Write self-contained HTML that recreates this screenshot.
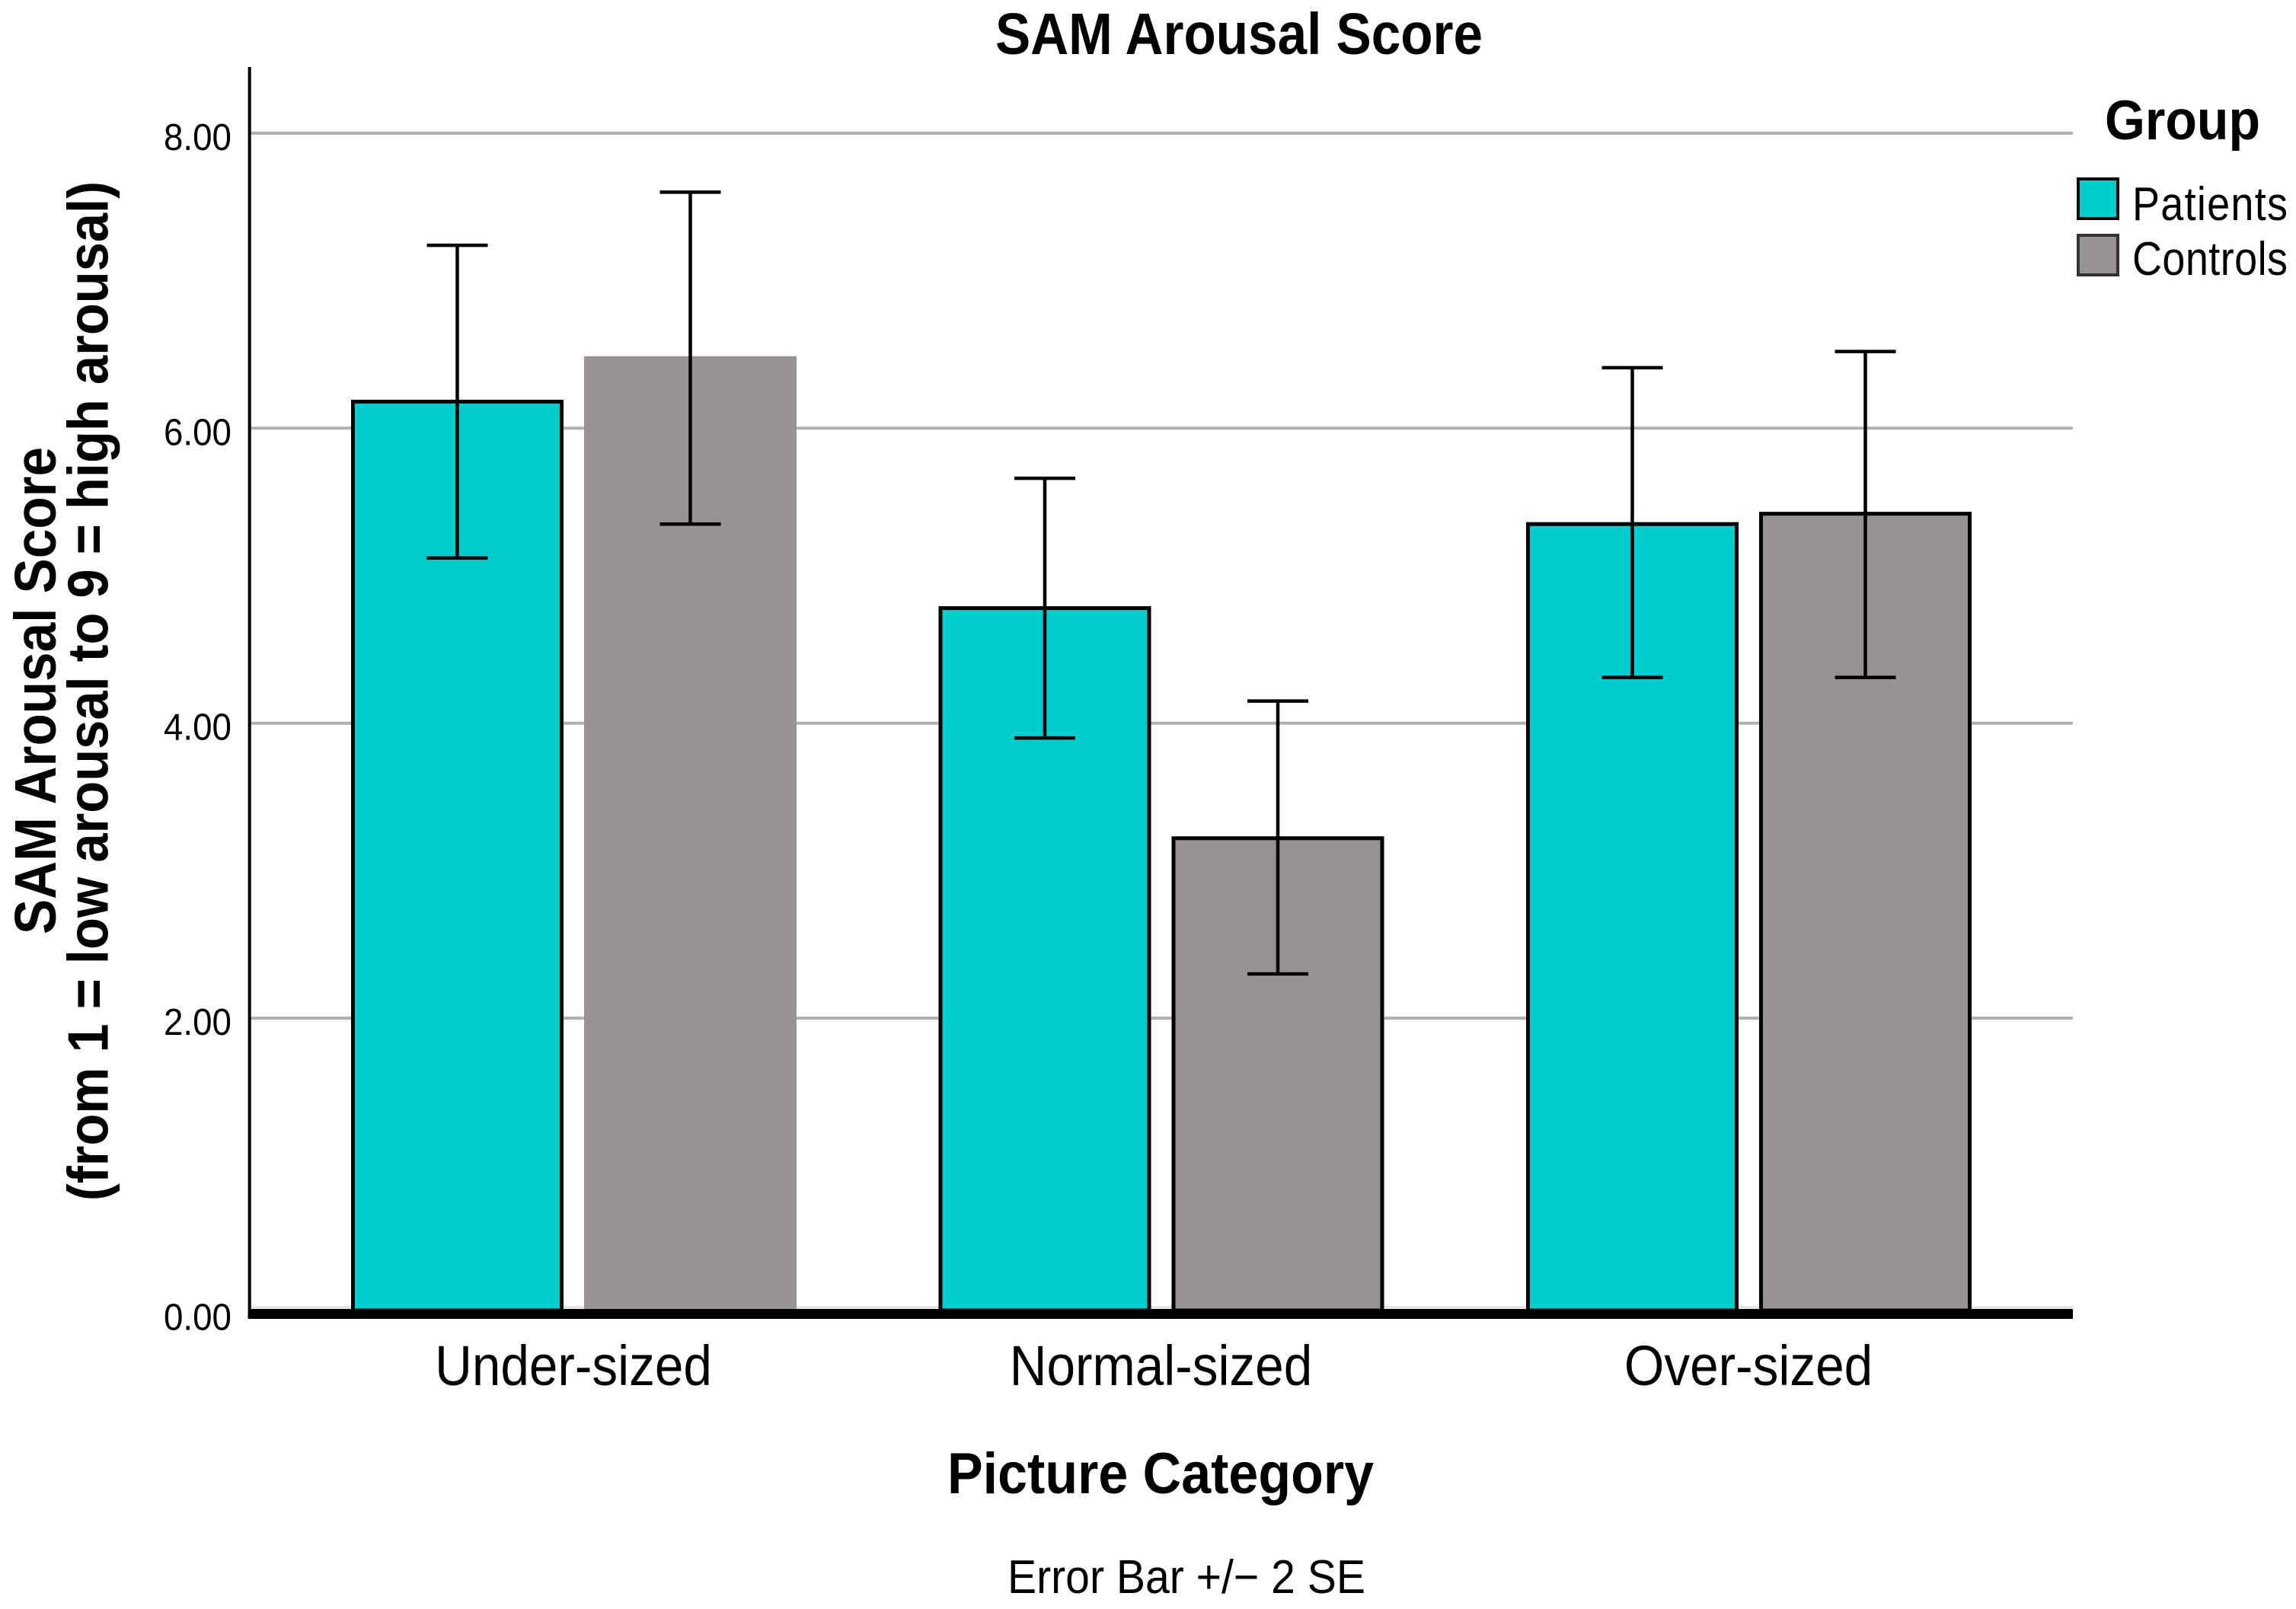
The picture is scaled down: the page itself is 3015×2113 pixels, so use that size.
<!DOCTYPE html>
<html lang="en">
<head>
<meta charset="utf-8">
<title>SAM Arousal Score</title>
<style>
  html, body { margin: 0; padding: 0; background: #fff; width: 3015px; height: 2113px; overflow: hidden; }
  svg { display: block; }
  text { font-family: "Liberation Sans", sans-serif; fill: #000; }
  .bold { font-weight: bold; }
</style>
</head>
<body>
<svg id="chart" xmlns="http://www.w3.org/2000/svg" width="3015" height="2113" viewBox="0 0 3015 2113">
  <rect x="0" y="0" width="3015" height="2113" fill="#ffffff"/>
  <g id="grid"></g>
  <g id="bars"></g>
  <g id="errors"></g>
  <g id="axes"></g>
  <g id="yticks"></g>
  <g id="xticks"></g>
  <g id="legend">
    <text class="bold" font-size="67" textLength="204" lengthAdjust="spacingAndGlyphs" transform="translate(2764,183) scale(1,1.1)">Group</text>
  </g>
  <text class="bold" font-size="68" textLength="640" lengthAdjust="spacingAndGlyphs" transform="translate(1307,71) scale(1,1.13)">SAM Arousal Score</text>
  <text class="bold" font-size="68" textLength="640" lengthAdjust="spacingAndGlyphs" transform="translate(73,1227) rotate(-90) scale(1,1.13)">SAM Arousal Score</text>
  <text class="bold" font-size="68" textLength="1339" lengthAdjust="spacingAndGlyphs" transform="translate(141.5,1577) rotate(-90) scale(1,1.1)">(from 1 = low arousal to 9 = high arousal)</text>
  <text class="bold" font-size="69" textLength="560" lengthAdjust="spacingAndGlyphs" transform="translate(1244,1961) scale(1,1.1)">Picture Category</text>
  <text font-size="56.5" textLength="470" lengthAdjust="spacingAndGlyphs" transform="translate(1323,2092) scale(1,1.1)">Error Bar +/− 2 SE</text>
</svg>
<script>
const categories = ['Under-sized', 'Normal-sized', 'Over-sized'];
const seriesNames = ['Patients', 'Controls'];
const patientMeans = [6.18, 4.78, 5.35];
const controlMeans = [6.475, 3.22, 5.42];
const patientUpper = [7.24, 5.66, 6.41];
const controlUpper = [7.60, 4.15, 6.52];
const patientLower = [5.12, 3.90, 4.31];
const controlLower = [5.35, 2.30, 4.31];
const yTicks = [0, 2, 4, 6, 8];

const SVG_NS = 'http://www.w3.org/2000/svg';
const Y_ZERO = 1724.5;
const Y_UNIT = 193.7;
const X_FIRST = 753.5;
const X_STEP = 771.5;
const BAR_OFFSET = 153;
const BAR_WIDTH = 274;
const CAP_HALF = 40;
const PLOT_LEFT = 327.7;
const PLOT_RIGHT = 2722;
const AXIS_TOP = 88;
const AXIS_BAND_TOP = 1719;
const AXIS_BAND_BOTTOM = 1732;
const FILLS = ['#00cdce', '#989292'];
const SWATCH_STROKES = ['#000000', '#333333'];

function yScale(v) { return Y_ZERO - v * Y_UNIT; }
function xScale(c) { return X_FIRST + c * X_STEP; }

function make(tag, parentId, attrs) {
  const el = document.createElementNS(SVG_NS, tag);
  for (const k in attrs) el.setAttribute(k, attrs[k]);
  document.getElementById(parentId).appendChild(el);
  return el;
}

/* gridlines and y ticks */
yTicks.forEach(function (t) {
  if (t > 0) {
    const line = make('line', 'grid', { x1: PLOT_LEFT, x2: PLOT_RIGHT, y1: yScale(t), y2: yScale(t), stroke: '#b0b0b0', 'stroke-width': 4 });
    
    
  }
  const label = make('text', 'yticks', {
    'font-size': 46,
    textLength: 89,
    lengthAdjust: 'spacingAndGlyphs',
    transform: 'translate(215,' + (yScale(t) + 22) + ') scale(1,1.07)'
  });
  label.textContent = t.toFixed(2);
  
  
});

const halo = make('rect', 'grid', { x: PLOT_LEFT, y: AXIS_BAND_TOP - 4, width: PLOT_RIGHT - PLOT_LEFT, height: 4, fill: '#e4e4e4' });



/* bars and error bars */
const means = [patientMeans, controlMeans];
const uppers = [patientUpper, controlUpper];
const lowers = [patientLower, controlLower];

categories.forEach(function (cat, c) {
  seriesNames.forEach(function (name, s) {
    const cx = xScale(c) + (s === 0 ? -BAR_OFFSET : BAR_OFFSET);
    const top = yScale(means[s][c]);
    const unoutlined = (s === 1 && c === 0);
    const bar = make('rect', 'bars', {
      x: cx - BAR_WIDTH / 2,
      y: top,
      width: BAR_WIDTH,
      height: AXIS_BAND_TOP + 2 - top,
      fill: FILLS[s],
      stroke: unoutlined ? FILLS[s] : '#000000',
      'stroke-width': 5
    });
    
    

    const hi = yScale(uppers[s][c]);
    const lo = yScale(lowers[s][c]);
    const stem = make('line', 'errors', { x1: cx, x2: cx, y1: hi, y2: lo, stroke: '#000', 'stroke-width': 4.5 });
    
    
    const capHi = make('line', 'errors', { x1: cx - CAP_HALF, x2: cx + CAP_HALF, y1: hi, y2: hi, stroke: '#000', 'stroke-width': 4.5 });
    
    
    const capLo = make('line', 'errors', { x1: cx - CAP_HALF, x2: cx + CAP_HALF, y1: lo, y2: lo, stroke: '#000', 'stroke-width': 4.5 });
    
    
  });

  const label = make('text', 'xticks', {
    'font-size': 67.5,
    'text-anchor': 'middle',
    transform: 'translate(' + (xScale(c) - 0.5) + ',1819) scale(1,1.1)'
  });
  label.textContent = cat;
  
  
});

/* axes */
const yAxis = make('line', 'axes', { x1: PLOT_LEFT, x2: PLOT_LEFT, y1: AXIS_TOP, y2: AXIS_BAND_BOTTOM, stroke: '#000', 'stroke-width': 4 });


const xAxis = make('rect', 'axes', { x: PLOT_LEFT - 2, y: AXIS_BAND_TOP, width: PLOT_RIGHT - PLOT_LEFT + 2, height: AXIS_BAND_BOTTOM - AXIS_BAND_TOP, fill: '#000' });



/* legend */
seriesNames.forEach(function (name, s) {
  const rowY = 235 + s * 74;
  const swatch = make('rect', 'legend', { x: 2729, y: rowY, width: 52, height: 52, fill: FILLS[s], stroke: SWATCH_STROKES[s], 'stroke-width': 4 });
  
  
  const label = make('text', 'legend', {
    'font-size': 54,
    textLength: 204,
    lengthAdjust: 'spacing',
    transform: 'translate(2800,' + (rowY + 54 - s * 2) + ') scale(1,1.15)'
  });
  label.textContent = name;
  
  
});
</script>
</body>
</html>
